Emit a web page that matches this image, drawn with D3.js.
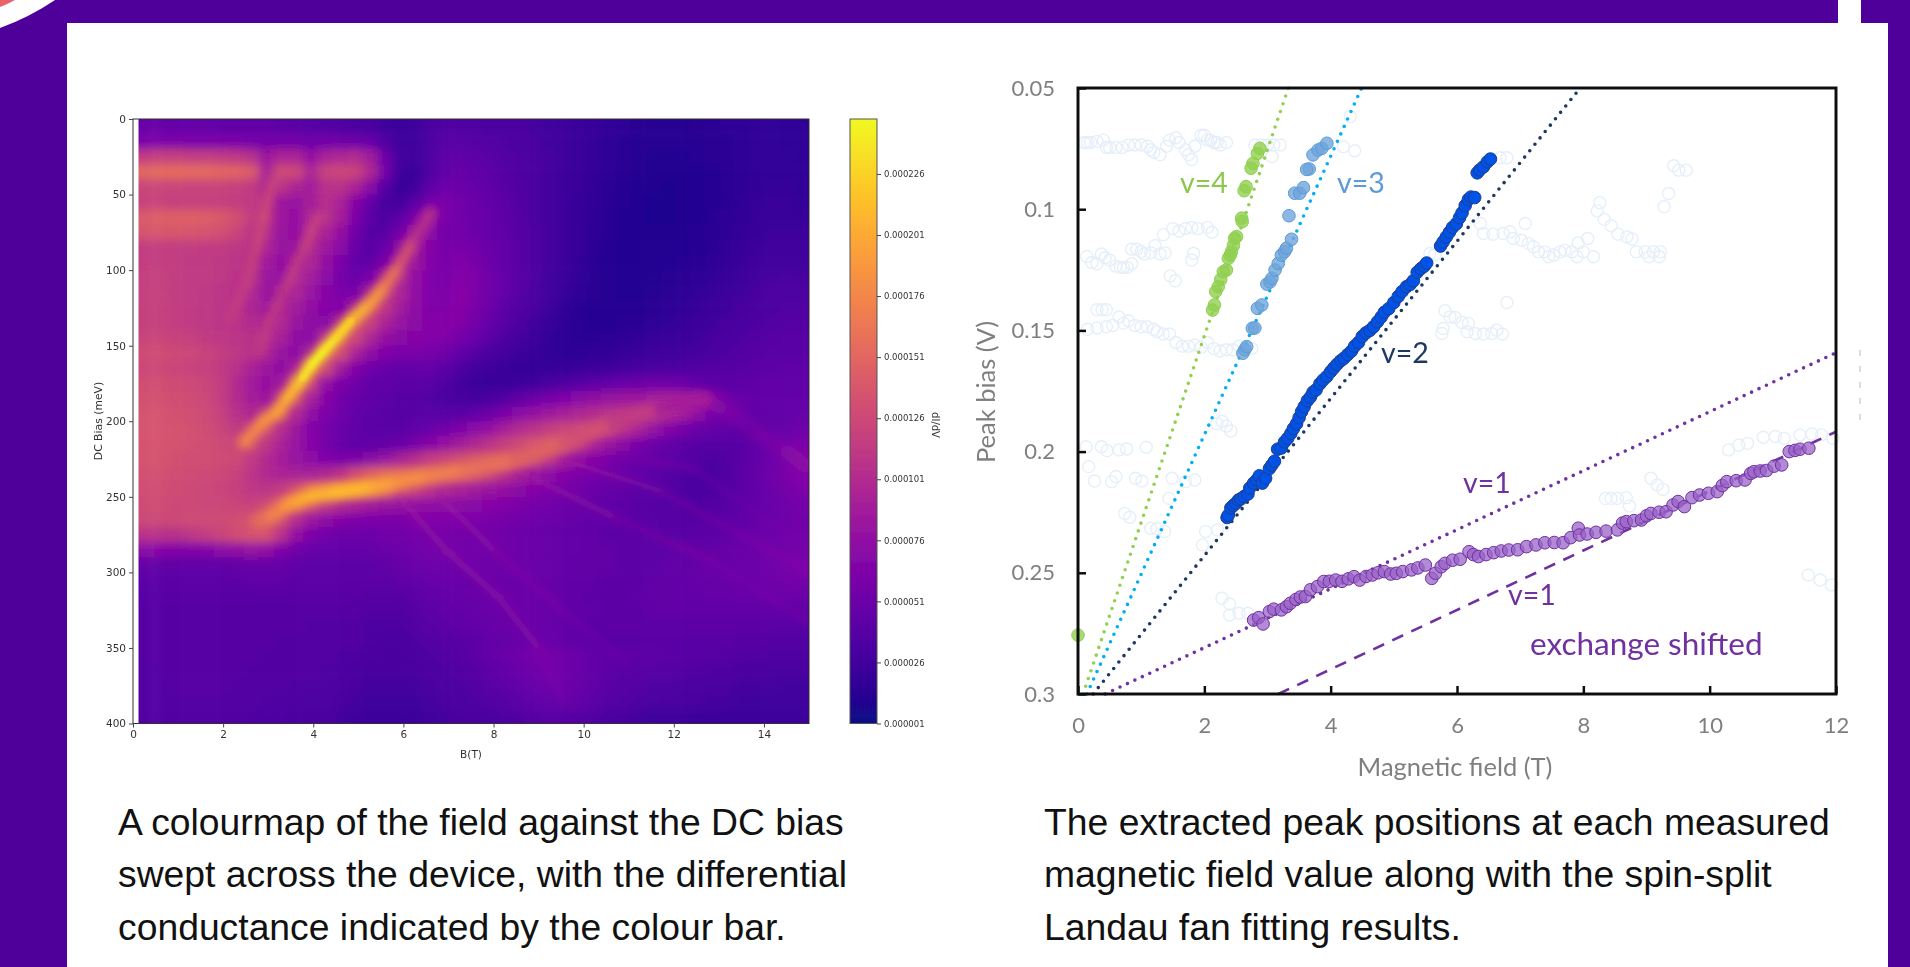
<!DOCTYPE html>
<html>
<head>
<meta charset="utf-8">
<script src="https://cdn.jsdelivr.net/npm/d3@7"></script>
<style>
  html, body { margin: 0; padding: 0; background: #4f009a; overflow: hidden; }
  svg { display: block; }
</style>
</head>
<body>
<div id="chart"></div>
<script>
// colourmap data, conductance in units of 1e-6, rows every 10 meV, columns every 0.33 T
const fieldEdges = [0.15,0.48,0.81,1.14,1.47,1.8,2.13,2.46,2.79,3.12,3.45,3.78,4.11,4.44,4.77,5.1,5.43,5.76,6.09,6.42,6.75,7.08,7.41,7.74,8.07,8.4,8.73,9.06,9.39,9.72,10.05,10.38,10.71,11.04,11.37,11.7,12.03,12.36,12.69,13.02,13.35,13.68,14.01,14.34,14.67,15];
const biasEdges = d3.range(0, 401, 10);
const conductance = [
[48,48,47,46,46,45,44,44,44,42,40,38,36,34,32,30,26,24,26,30,34,34,34,32,32,30,28,26,24,22,20,17,15,13,12,12,12,13,14,15,16,17,17,16,15],
[62,62,62,60,60,60,60,58,58,58,56,52,54,54,52,48,34,26,26,32,38,40,38,36,34,32,30,26,24,22,19,16,14,12,11,11,11,12,13,14,16,17,17,16,15],
[115,118,118,116,116,114,112,105,84,95,95,78,92,98,100,88,52,28,26,34,42,44,42,40,36,34,30,28,24,22,19,16,14,12,10,9,10,11,13,14,16,17,17,17,16],
[152,155,155,153,153,150,148,142,92,128,125,96,120,124,120,98,58,26,22,34,44,48,44,42,38,34,32,28,24,22,18,15,13,11,9,8,9,10,12,14,16,17,18,18,17],
[122,122,122,120,120,120,118,115,98,110,95,88,105,106,95,70,38,20,26,42,52,52,48,44,40,36,32,28,24,22,18,14,12,10,8,7,8,10,12,14,16,18,19,19,18],
[120,120,118,118,118,118,116,114,108,85,80,90,104,94,68,46,30,28,40,56,60,56,50,46,42,36,32,28,24,21,17,14,11,9,7,7,8,10,12,14,17,19,20,20,19],
[142,145,146,146,144,140,132,116,108,84,78,96,106,90,62,42,34,42,60,72,60,56,52,48,42,38,32,28,24,20,16,13,10,9,7,7,8,10,13,15,18,20,21,21,21],
[136,138,138,136,135,132,122,110,104,82,78,100,94,78,54,38,38,58,76,72,58,56,52,48,44,38,34,28,24,20,16,13,10,9,8,8,9,11,13,16,19,21,23,23,23],
[116,116,116,116,115,114,112,108,96,80,84,100,86,70,50,40,50,72,84,68,58,60,56,50,46,40,34,28,24,20,15,12,10,9,9,9,10,12,14,17,20,23,25,25,25],
[116,116,116,114,114,112,110,108,88,78,92,96,78,62,46,44,62,86,84,66,60,64,60,52,46,40,34,28,24,19,14,12,10,9,9,10,11,13,16,19,22,25,27,27,27],
[118,118,116,114,114,112,108,106,84,80,100,88,72,58,50,62,90,100,78,64,60,66,62,54,46,40,34,26,22,18,14,11,10,10,10,11,13,15,18,21,24,27,29,30,29],
[118,118,116,114,112,110,108,100,82,90,96,80,68,60,62,92,115,96,76,64,62,68,62,54,46,38,32,26,20,16,13,11,10,10,11,13,15,17,20,23,26,29,31,32,32],
[118,118,116,114,112,110,108,96,88,98,88,76,68,66,92,125,112,88,74,64,64,68,60,52,42,36,30,24,18,14,12,11,11,12,13,15,17,20,23,26,29,31,33,35,35],
[118,118,116,114,112,110,108,102,98,100,82,72,70,98,132,120,94,80,72,66,66,66,58,48,40,34,26,20,16,14,12,12,13,14,16,18,20,23,26,29,31,34,35,37,37],
[122,122,120,118,114,112,110,108,104,92,74,72,105,138,125,96,78,70,68,66,64,58,50,42,34,28,23,18,15,14,14,15,16,18,20,22,24,26,29,32,34,36,38,39,39],
[128,128,126,124,120,116,112,106,98,80,74,96,140,132,94,74,64,60,60,58,54,46,38,32,28,24,20,17,16,16,17,18,20,22,24,26,27,29,32,34,36,38,40,40,40],
[125,125,123,121,118,114,106,94,84,74,94,140,128,88,66,54,48,46,46,46,42,34,28,24,22,20,19,19,20,22,24,26,28,30,32,33,34,36,38,38,40,41,42,43,43],
[130,130,128,126,122,116,102,88,78,88,130,122,78,62,54,46,44,42,42,40,34,28,24,22,22,24,26,30,34,38,42,46,50,52,54,54,52,46,42,42,42,44,44,45,45],
[132,132,130,128,124,116,102,90,84,112,128,92,68,56,48,44,42,40,38,36,32,30,28,30,36,44,52,58,64,70,76,80,84,86,88,90,88,80,68,54,48,46,46,46,46],
[134,134,132,130,126,118,106,98,112,128,100,74,62,54,46,42,40,38,38,38,38,40,44,50,60,70,78,84,90,96,102,106,108,108,104,98,88,74,58,50,46,44,44,46,48],
[135,135,134,132,128,122,114,118,128,104,84,66,58,50,44,40,40,40,44,48,54,62,70,78,90,100,108,116,122,124,120,118,108,94,80,68,58,50,46,44,42,42,44,48,52],
[135,135,134,132,130,126,124,130,112,94,80,68,58,50,44,44,46,50,58,68,78,88,98,108,118,128,134,136,130,116,98,84,72,60,52,46,42,40,38,38,40,44,48,54,60],
[134,134,132,130,130,128,126,114,102,90,80,72,64,60,62,70,80,92,104,116,122,130,136,140,140,136,128,112,92,78,68,60,54,48,44,42,40,36,34,36,40,46,52,58,66],
[132,132,130,128,126,124,120,110,100,94,92,92,98,108,130,145,152,150,146,144,140,138,134,122,108,94,82,74,68,62,58,54,50,46,42,38,34,32,32,36,42,48,54,60,66],
[130,130,128,126,124,122,118,112,110,116,132,148,155,158,160,160,152,136,122,110,100,94,88,82,78,72,68,62,58,56,52,48,46,42,40,36,34,32,34,36,42,46,52,58,62],
[128,128,126,126,124,124,122,120,128,140,148,132,116,104,96,90,84,80,78,76,74,72,70,68,66,62,58,56,52,50,46,44,42,40,38,36,36,34,36,38,42,46,50,54,58],
[126,126,126,128,128,128,130,136,142,130,104,84,74,68,64,62,62,62,64,64,64,64,62,60,58,56,54,52,50,48,46,44,42,40,40,38,38,38,40,42,44,48,50,54,56],
[108,106,106,112,116,122,130,134,134,108,78,62,56,52,52,52,54,56,58,58,58,58,56,56,54,52,50,48,46,46,44,42,42,40,40,40,40,42,42,44,46,50,52,54,56],
[72,68,66,64,66,72,76,80,76,64,54,48,48,46,46,48,50,52,54,56,56,56,56,54,54,52,50,48,46,46,44,44,42,42,42,42,44,44,46,48,50,52,54,56,58],
[46,44,44,44,44,44,46,48,48,46,44,42,42,42,42,42,44,48,50,52,52,54,54,54,52,52,50,48,46,44,44,44,42,42,42,44,44,46,48,48,50,52,54,58,60],
[42,42,42,42,42,42,42,44,44,44,42,42,42,42,42,42,42,44,46,48,50,50,52,52,52,50,50,48,46,44,44,42,42,42,44,44,46,48,48,50,50,52,54,56,58],
[40,40,40,40,40,40,40,40,40,40,40,40,40,40,40,38,38,40,42,44,46,48,50,52,52,52,50,48,46,44,42,42,42,44,44,44,46,46,48,48,50,50,52,52,52],
[38,38,38,38,38,38,38,38,38,38,38,38,38,38,38,36,36,36,38,42,44,46,48,50,52,52,50,48,46,44,44,42,42,42,44,44,44,44,44,44,44,44,44,44,44],
[38,38,38,38,38,38,38,38,38,38,38,36,36,36,36,34,34,34,36,40,42,44,46,48,50,52,50,48,46,44,42,42,42,42,42,42,42,42,42,42,42,42,42,40,40],
[38,38,38,38,38,38,38,38,38,36,36,36,36,36,36,34,32,32,34,36,38,40,42,46,48,50,52,50,46,44,42,40,40,40,40,40,40,40,40,40,38,38,36,36,36],
[38,38,38,38,38,38,38,38,36,36,36,36,36,34,34,32,30,30,32,34,36,38,42,46,50,54,58,58,54,50,46,44,42,42,42,40,40,40,38,38,36,36,34,34,34],
[36,38,38,38,38,38,38,36,36,36,36,36,34,34,32,30,30,30,30,32,34,36,38,42,46,50,54,56,54,50,46,42,40,40,38,38,36,36,34,34,32,32,30,30,30],
[36,36,38,38,38,38,36,36,36,36,34,34,34,32,30,28,28,28,28,30,32,34,36,40,42,46,50,52,52,48,44,40,38,36,34,34,32,32,30,30,28,28,28,26,26],
[36,36,36,36,36,36,36,36,34,34,34,32,32,30,28,26,26,26,26,28,30,32,34,36,38,42,44,46,48,46,42,38,36,34,32,30,30,30,28,28,26,26,26,26,26],
[36,36,36,36,36,36,36,34,34,34,32,30,30,28,26,24,24,24,24,26,28,30,30,32,34,36,38,40,40,38,36,32,30,28,26,26,26,24,24,24,24,24,24,24,24]
];

// ridges of the colourmap, [field T, bias meV, conductance 1e-6]
const nu4Ridge = [[3.1,40,125],[2.9,65,145],[2.75,85,128],[2.5,110,122],[2.15,132,118]];
const nu3Ridge = [[4.1,65,135],[3.8,85,130],[3.4,110,122],[3,135,122],[2.8,155,118]];
const mainRidge = [[2.47,214,172],[2.9,200,182],[3.2,194,192],[3.44,184,205],[3.7,174,220],[3.98,162,232],[4.25,153,232],[4.5,145,226],[4.85,133,218],[5.27,122,205],[5.6,110,180],[5.92,96,150],[6.24,79,118],[6.6,62,92]];
const mainCore = [[3.75,172,236],[3.98,162,248],[4.25,153,248],[4.5,145,238],[4.85,133,226]];
const lowRidge = [[2.8,266,150],[3.1,262,165],[3.44,255,185],[3.7,252,198],[4,249,205],[4.5,247,212],[4.95,245,215],[5.4,243,205],[5.9,240,188],[6.6,236,176],[7.4,232,166],[8.5,226,154],[9.6,214,140],[10.65,201,125],[11.7,191,105],[12.7,186,78]];
const faintRidges = [
  [[5.9,250,92],[7,287,88],[8.1,316,92],[9,350,78],[9.6,385,55]],
  [[6.8,250,88],[8,285,82],[9.5,325,72],[11,360,50]],
  [[8.5,232,95],[10.65,263,82],[12.8,292,72],[15,333,62]],
  [[9.6,226,95],[11.7,246,80],[13.5,275,70],[15,300,74]],
  [[10.8,222,82],[12.5,232,58],[14,265,60],[15,280,62]]
];
const tailRidge = [[12.7,186,80],[13.3,195,68],[13.9,208,62],[14.5,220,72],[15,231,82]];
const heatXTicks = [0, 2, 4, 6, 8, 10, 12, 14];
const heatYTicks = [0, 50, 100, 150, 200, 250, 300, 350, 400];
const barTicks = [1, 26, 51, 76, 101, 126, 151, 176, 201, 226];

// peak positions [field T, peak bias V]
const nu4Peaks = [[0,0.2757],[2.13,0.1416],[2.16,0.1395],[2.18,0.134],[2.22,0.132],[2.26,0.129],[2.3,0.1258],[2.35,0.1251],[2.38,0.1203],[2.41,0.119],[2.43,0.1175],[2.46,0.115],[2.48,0.112],[2.51,0.1113],[2.59,0.1037],[2.6,0.1051],[2.63,0.0924],[2.66,0.0907],[2.74,0.0831],[2.77,0.0811],[2.84,0.077],[2.88,0.0749]];
const nu3Peaks = [[2.61,0.1594],[2.64,0.158],[2.67,0.1567],[2.76,0.1491],[2.8,0.149],[2.84,0.1409],[2.91,0.1395],[2.99,0.1309],[3.04,0.13],[3.07,0.1285],[3.12,0.1251],[3.17,0.1224],[3.22,0.1189],[3.27,0.1175],[3.3,0.1161],[3.38,0.1124],[3.34,0.1027],[3.43,0.0934],[3.51,0.0934],[3.57,0.0911],[3.66,0.0834],[3.62,0.0836],[3.72,0.0776],[3.8,0.0756],[3.86,0.0749],[3.94,0.0728]];
const nu2Peaks = [[2.36,0.2272],[2.38,0.2262],[2.42,0.2232],[2.46,0.2222],[2.5,0.2213],[2.54,0.22],[2.58,0.2195],[2.63,0.2185],[2.69,0.2175],[2.72,0.215],[2.78,0.213],[2.83,0.2117],[2.87,0.21],[2.92,0.213],[2.97,0.211],[3.03,0.207],[3.07,0.2055],[3.11,0.204],[3.16,0.199],[3.22,0.1985],[3.27,0.196],[3.32,0.1945],[3.37,0.1925],[3.41,0.1905],[3.46,0.1885],[3.5,0.186],[3.54,0.1835],[3.58,0.1815],[3.63,0.179],[3.68,0.1775],[3.72,0.1755],[3.77,0.1745],[3.83,0.172],[3.88,0.1705],[3.94,0.169],[4,0.167],[4.05,0.1655],[4.1,0.164],[4.16,0.1625],[4.21,0.1615],[4.27,0.16],[4.33,0.1585],[4.38,0.1565],[4.44,0.155],[4.5,0.1525],[4.56,0.151],[4.62,0.15],[4.68,0.1485],[4.74,0.1465],[4.8,0.1445],[4.85,0.1425],[4.92,0.141],[5,0.1385],[5.07,0.136],[5.13,0.134],[5.2,0.132],[5.26,0.131],[5.31,0.1295],[5.37,0.126],[5.43,0.1245],[5.48,0.1235],[5.52,0.1222],[5.74,0.1152],[5.78,0.1135],[5.83,0.1115],[5.88,0.1095],[5.93,0.1075],[5.99,0.106],[6.04,0.1035],[6.08,0.1015],[6.13,0.0985],[6.18,0.096],[6.22,0.095],[6.28,0.0952],[6.32,0.085],[6.36,0.0838],[6.42,0.0825],[6.48,0.0805],[6.53,0.0793]];
const nu1Peaks = [[2.78,0.2695],[2.86,0.2685],[2.93,0.2711],[3.03,0.266],[3.1,0.265],[3.22,0.2653],[3.3,0.264],[3.36,0.2626],[3.45,0.261],[3.52,0.26],[3.6,0.2598],[3.68,0.257],[3.79,0.2557],[3.89,0.2536],[3.98,0.2535],[4.08,0.253],[4.18,0.2535],[4.28,0.2525],[4.37,0.2516],[4.46,0.253],[4.56,0.2515],[4.66,0.2509],[4.75,0.25],[4.85,0.2495],[4.95,0.2505],[5.04,0.2502],[5.14,0.2495],[5.28,0.2488],[5.38,0.248],[5.5,0.2468],[5.6,0.2523],[5.66,0.2502],[5.75,0.2475],[5.81,0.2461],[5.93,0.2448],[6.05,0.2444],[6.19,0.2413],[6.26,0.2425],[6.34,0.2433],[6.46,0.2425],[6.58,0.2417],[6.7,0.241],[6.82,0.2406],[6.96,0.2405],[7.1,0.2392],[7.25,0.2385],[7.39,0.2376],[7.54,0.2375],[7.68,0.2376],[7.8,0.2355],[7.92,0.2316],[7.94,0.2344],[8.06,0.234],[8.2,0.2333],[8.36,0.2328],[8.54,0.2323],[8.62,0.2295],[8.68,0.2289],[8.8,0.2285],[8.92,0.2282],[9,0.2265],[9.07,0.2255],[9.2,0.225],[9.31,0.2248],[9.42,0.222],[9.5,0.2206],[9.6,0.2227],[9.72,0.219],[9.84,0.2179],[9.98,0.2172],[10.12,0.2165],[10.2,0.214],[10.27,0.2124],[10.42,0.212],[10.56,0.2117],[10.65,0.209],[10.7,0.2083],[10.8,0.208],[10.9,0.2078],[11.02,0.206],[11.14,0.2055],[11.26,0.2],[11.35,0.1995],[11.43,0.199],[11.57,0.1986]];
const fadedPeaks = [
  [0.1,0.0725],[0.15,0.0725],[0.2,0.0725],[0.3,0.072],[0.4,0.0715],[0.45,0.0745],[0.5,0.0745],[0.6,0.0745],[0.7,0.0745],[0.8,0.0735],[0.9,0.0735],[1,0.0735],[1.1,0.074],[1.15,0.0755],[1.2,0.0765],[1.3,0.0775],[1.4,0.074],[1.45,0.0715],[1.55,0.0705],[1.6,0.0725],[1.7,0.0755],[1.75,0.0775],[1.8,0.0795],[1.85,0.074],[1.95,0.0695],[2,0.0695],[2.05,0.0715],[2.1,0.0715],[2.15,0.0725],[2.2,0.0725],[2.25,0.0735],[2.35,0.0725],[2.8,0.0735],[2.9,0.0735],[3,0.0735],[3.1,0.0735],[3.2,0.0735],[3.07,0.0783],[4.31,0.0618],[4.2,0.0742],[4.38,0.0759],
  [0.14,0.1195],[0.22,0.122],[0.3,0.1225],[0.37,0.1185],[0.43,0.12],[0.5,0.121],[0.6,0.1235],[0.67,0.124],[0.72,0.124],[0.78,0.124],[0.85,0.1225],[0.85,0.1165],[0.93,0.1165],[1,0.1175],[1.05,0.1185],[1.15,0.118],[1.22,0.115],[1.3,0.1185],[1.38,0.118],[1.35,0.1105],[1.5,0.108],[1.6,0.109],[1.7,0.108],[1.8,0.1075],[1.9,0.108],[2.05,0.1075],[2.12,0.1095],[1.83,0.1182],[1.8,0.121],[1.46,0.1275],[1.54,0.1295],[3.3,0.1165],
  [0.3,0.1415],[0.38,0.1415],[0.45,0.1415],[0.15,0.1495],[0.3,0.149],[0.45,0.1485],[0.55,0.148],[0.65,0.1445],[0.72,0.147],[0.8,0.146],[0.9,0.148],[1,0.1485],[1.1,0.1485],[1.2,0.1495],[1.25,0.1505],[1.35,0.1515],[1.45,0.1515],[1.55,0.155],[1.65,0.1565],[1.75,0.1565],[1.85,0.156],[1.95,0.157],[2.05,0.155],[2.15,0.1575],[2.25,0.1585],[2.35,0.158],[2.45,0.158],[2.55,0.1565],[2.75,0.1575],
  [2.2,0.1885],[2.28,0.1875],[2.35,0.1895],[2.42,0.1915],
  [0.13,0.198],[0.37,0.198],[0.46,0.1996],[0.65,0.1993],[0.77,0.1989],[1.08,0.1982],[0.17,0.2062],[0.26,0.2121],[0.53,0.2124],[0.6,0.2103],[0.91,0.211],[1.01,0.2121],[1.49,0.211],[1.7,0.2124],[1.85,0.2117],[1.44,0.2193],[0.74,0.2255],[0.82,0.2271],[1.15,0.2316],[1.25,0.2318],[1.37,0.233],[1.97,0.2385],[2.02,0.233],[2.21,0.2323],
  [2.28,0.2605],[2.4,0.2629],[2.4,0.2674],[2.55,0.2667],[2.69,0.2667],
  [8.35,0.2193],[8.44,0.2193],[8.54,0.2193],[8.68,0.219],[8.73,0.2224],[9.07,0.211],[9.17,0.2138],[9.26,0.2156],
  [10.3,0.1993],[10.46,0.1973],[10.6,0.1966],[10.85,0.1941],[11.04,0.1938],[11.18,0.1945],[11.43,0.1931],[11.62,0.1927],[11.77,0.1931],[11.95,0.1945],[11.56,0.2509],[11.75,0.253],[11.93,0.255],
  [6.37,0.1059],[6.42,0.11],[6.57,0.1103],[6.73,0.11],[6.84,0.1093],[6.89,0.1121],[7.02,0.1128],[7.13,0.1141],[7.21,0.1155],[7.29,0.1176],[7.39,0.1176],[7.45,0.1196],[7.53,0.1189],[7.63,0.1176],[7.71,0.1169],[7.82,0.1176],[7.9,0.1196],[8,0.1176],[7.92,0.1139],[8.07,0.1121],[8.16,0.1196],[7.08,0.1059],
  [8.26,0.0973],[8.22,0.1007],[8.33,0.1042],[8.44,0.1068],[8.55,0.1103],[8.69,0.1114],[8.77,0.1123],[8.84,0.1176],[8.98,0.1176],[9.11,0.1176],[9.22,0.1176],[9.04,0.1196],[9.2,0.1196],[9.35,0.0935],[9.28,0.099],[9.43,0.0821],[9.51,0.0839],[9.63,0.0839],
  [6.79,0.1385],[5.81,0.1419],[5.89,0.1444],[5.97,0.1447],[6.08,0.1467],[6.18,0.1471],[6.16,0.1506],[6.29,0.1513],[6.42,0.1515],[6.55,0.1513],[6.63,0.1499],[6.72,0.1515],[5.76,0.1513],[5.78,0.1492],[5.57,0.1183],[5.65,0.1187],[6.79,0.0788],[6.68,0.0788]
];

// fitted Landau fan lines, end points [field T, peak bias V]
const nu4Fit = [[0.08,0.3],[3.33,0.05]];
const nu3Fit = [[0.14,0.3],[4.49,0.05]];
const nu2Fit = [[0.24,0.3],[7.95,0.05]];
const nu1Fit = [[0.43,0.3],[12,0.1592]];
const nu1ShiftFit = [[3.17,0.3],[12,0.1918]];
const fanXTicks = [0, 2, 4, 6, 8, 10, 12];
const fanYTicks = [0.05, 0.1, 0.15, 0.2, 0.25, 0.3];

const captionLeft = ['A colourmap of the field against the DC bias', 'swept across the device, with the differential', 'conductance indicated by the colour bar.'];
const captionRight = ['The extracted peak positions at each measured', 'magnetic field value along with the spin-split', 'Landau fan fitting results.'];

const calibri = 'Lato, "Open Sans", sans-serif';

const svg = d3.select('#chart').append('svg')
  .attr('width', 1910)
  .attr('height', 967)
  .attr('viewBox', '0 0 1910 967');

const defs = svg.append('defs');
function addBlur(id, amount) {
  defs.append('filter').attr('id', id)
    .attr('x', '-5%').attr('y', '-5%').attr('width', '110%').attr('height', '110%')
    .append('feGaussianBlur').attr('stdDeviation', amount);
}
addBlur('cellBlur', 5);
addBlur('wideBlur', 6);
addBlur('ridgeBlur', 4.5);
addBlur('faintBlur', 3.5);
addBlur('coreBlur', 2.5);
addBlur('soft', 0.55);
addBlur('softer', 0.75);
defs.append('clipPath').attr('id', 'heatClip')
  .append('rect').attr('x', 138.5).attr('y', 119).attr('width', 670.5).attr('height', 604.5);

// page background: white panel on the purple page
svg.append('rect').attr('x', 67).attr('y', 23).attr('width', 1821).attr('height', 944).attr('fill', '#fff');
svg.append('rect').attr('x', 1838).attr('y', 0).attr('width', 23).attr('height', 23).attr('fill', '#fff');
svg.append('path').attr('d', 'M0,0 L55,0 Q30,17 0,28 Z').attr('fill', '#fff');
svg.append('path').attr('d', 'M0,0 L15,0 Q8,4 0,7 Z').attr('fill', '#e8656a');

// ****************** colourmap ***************************
const heatX = d3.scaleLinear().domain([0, 15]).range([133, 809]);
const heatY = d3.scaleLinear().domain([0, 400]).range([119, 723.5]);
const plasma = d3.scaleSequential(d3.interpolatePlasma).domain([1, 248.5]);

const left = svg.append('g').attr('class', 'colourmap').attr('filter', 'url(#softer)');
const cellsClip = left.append('g').attr('clip-path', 'url(#heatClip)');
const cells = cellsClip.append('g').attr('filter', 'url(#cellBlur)');

conductance.forEach((row, r) => {
  cells.selectAll(null)
    .data(row)
    .join('rect')
    // outer cells run past the clip so the blur does not fade at the edge
    .attr('x', (d, c) => heatX(fieldEdges[c]) - (c === 0 ? 40 : 0))
    .attr('y', heatY(biasEdges[r]) - (r === 0 ? 40 : 0))
    .attr('width', (d, c) => heatX(fieldEdges[c + 1]) - heatX(fieldEdges[c]) + (c === 0 || c === row.length - 1 ? 40 : 0.5))
    .attr('height', heatY(biasEdges[r + 1]) - heatY(biasEdges[r]) + (r === 0 || r === conductance.length - 1 ? 40 : 0.5))
    .attr('fill', d => plasma(d));
});

function drawRidge(group, points, width, opacity) {
  group.append('g').selectAll('line')
    .data(points.slice(1).map((d, i) => [points[i], d]))
    .join('line')
    .attr('x1', d => heatX(d[0][0]))
    .attr('y1', d => heatY(d[0][1]))
    .attr('x2', d => heatX(d[1][0]))
    .attr('y2', d => heatY(d[1][1]))
    .attr('stroke', d => plasma((d[0][2] + d[1][2]) / 2))
    .attr('stroke-width', width)
    .attr('stroke-opacity', opacity)
    .attr('stroke-linecap', 'round');
}

const faintGroup = cellsClip.append('g').attr('filter', 'url(#faintBlur)');
faintRidges.forEach(points => drawRidge(faintGroup, points, 6, 0.38));
drawRidge(cellsClip.append('g').attr('filter', 'url(#wideBlur)'), tailRidge, 14, 0.6);
const ridgeGroup = cellsClip.append('g').attr('filter', 'url(#ridgeBlur)');
drawRidge(ridgeGroup, nu4Ridge, 8, 0.7);
drawRidge(ridgeGroup, nu3Ridge, 8, 0.7);
drawRidge(ridgeGroup, lowRidge, 15, 0.95);
drawRidge(ridgeGroup, mainRidge, 13, 0.95);
drawRidge(cellsClip.append('g').attr('filter', 'url(#coreBlur)'), mainCore, 5, 0.9);

left.append('rect')
  .attr('x', 133).attr('y', 119).attr('width', 676).attr('height', 604.5)
  .attr('fill', 'none').attr('stroke', '#333').attr('stroke-width', 1);

function styleSmallAxis(g) {
  g.select('.domain').remove();
  g.selectAll('line').attr('stroke', '#444');
  g.selectAll('text').attr('fill', '#333').attr('font-size', 10.5).attr('font-family', 'DejaVu Sans');
}

left.append('g')
  .attr('transform', 'translate(0,723.5)')
  .call(d3.axisBottom(heatX).tickValues(heatXTicks).tickSize(4).tickPadding(3))
  .call(styleSmallAxis);

left.append('g')
  .attr('transform', 'translate(133,0)')
  .call(d3.axisLeft(heatY).tickValues(heatYTicks).tickSize(4).tickPadding(3))
  .call(styleSmallAxis);

left.append('text')
  .attr('x', 471).attr('y', 758)
  .attr('text-anchor', 'middle')
  .attr('font-size', 10.5).attr('font-family', 'DejaVu Sans').attr('fill', '#333')
  .text('B(T)');

left.append('text')
  .attr('transform', 'translate(102,421) rotate(-90)')
  .attr('text-anchor', 'middle')
  .attr('font-size', 10.8).attr('font-family', 'DejaVu Sans').attr('fill', '#333')
  .text('DC Bias (meV)');

// colour bar
const barY = d3.scaleLinear().domain([1, 248.5]).range([723.5, 119]);
const barGradient = defs.append('linearGradient').attr('id', 'barGradient')
  .attr('x1', 0).attr('y1', 1).attr('x2', 0).attr('y2', 0);
d3.range(0, 1.01, 0.05).forEach(t => {
  barGradient.append('stop').attr('offset', t).attr('stop-color', d3.interpolatePlasma(t));
});

left.append('rect')
  .attr('x', 850).attr('y', 119).attr('width', 27).attr('height', 604.5)
  .attr('fill', 'url(#barGradient)')
  .attr('stroke', '#555').attr('stroke-width', 1);

left.append('g')
  .attr('transform', 'translate(877,0)')
  .call(d3.axisRight(barY).tickValues(barTicks).tickSize(4).tickPadding(3)
    .tickFormat(d => (d / 1e6).toFixed(6)))
  .call(styleSmallAxis)
  .call(g => g.selectAll('text').attr('font-size', 8.5));

left.append('text')
  .attr('transform', 'translate(932,425) rotate(90)')
  .attr('text-anchor', 'middle')
  .attr('font-size', 10).attr('font-family', 'DejaVu Sans').attr('fill', '#333')
  .text('dI/dV');

// ****************** Landau fan ***************************
const fanX = d3.scaleLinear().domain([0, 12]).range([1078, 1836]);
const fanY = d3.scaleLinear().domain([0.05, 0.3]).range([88, 694]);

const right = svg.append('g').attr('class', 'fan').attr('filter', 'url(#soft)');

right.append('g').selectAll('circle')
  .data(fadedPeaks)
  .join('circle')
  .attr('cx', d => fanX(d[0]))
  .attr('cy', d => fanY(d[1]))
  .attr('r', 6)
  .attr('fill', 'none')
  .attr('stroke', '#e6eff9')
  .attr('stroke-width', 1.4);

const fanLine = d3.line().x(d => fanX(d[0])).y(d => fanY(d[1]));
function drawFit(points, color, dash, width) {
  right.append('path')
    .attr('d', fanLine(points))
    .attr('fill', 'none')
    .attr('stroke', color)
    .attr('stroke-width', width)
    .attr('stroke-linecap', dash[0] === 0 ? 'round' : 'butt')
    .attr('stroke-dasharray', dash.join(' '));
}
drawFit(nu4Fit, '#92d050', [0, 8.2], 3.6);
drawFit(nu3Fit, '#00b0f0', [0, 8.2], 3.6);
drawFit(nu2Fit, '#1f3864', [0, 8.2], 3.6);
drawFit(nu1Fit, '#7030a0', [0, 8.2], 3.6);
drawFit(nu1ShiftFit, '#7030a0', [12, 9], 2.6);

function drawPeaks(points, fill, stroke, opacity) {
  right.append('g').selectAll('circle')
    .data(points)
    .join('circle')
    .attr('cx', d => fanX(d[0]))
    .attr('cy', d => fanY(d[1]))
    .attr('r', 6.3)
    .attr('fill', fill)
    .attr('fill-opacity', opacity)
    .attr('stroke', stroke)
    .attr('stroke-width', 1);
}
drawPeaks(nu4Peaks, '#92d050', '#8ccf50', 0.8);
drawPeaks(nu3Peaks, '#6fa5dc', '#5b9bd5', 0.8);
drawPeaks(nu2Peaks, '#0052e6', '#1f3f8f', 1);
drawPeaks(nu1Peaks, '#9a63c8', '#7030a0', 0.75);

right.append('rect')
  .attr('x', 1078).attr('y', 88).attr('width', 758).attr('height', 606)
  .attr('fill', 'none').attr('stroke', '#111').attr('stroke-width', 3);

function styleFanAxis(g) {
  g.select('.domain').remove();
  g.selectAll('line').attr('stroke', '#111').attr('stroke-width', 2.5);
  g.selectAll('text').attr('fill', '#7f7f7f').attr('font-size', 22).attr('font-family', calibri);
}

right.append('g')
  .attr('transform', 'translate(0,694)')
  .call(d3.axisBottom(fanX).tickValues(fanXTicks).tickSizeInner(-8).tickSizeOuter(0).tickPadding(23))
  .call(styleFanAxis);

right.append('g')
  .attr('transform', 'translate(1078,0)')
  .call(d3.axisLeft(fanY).tickValues(fanYTicks).tickSizeInner(-8).tickSizeOuter(0).tickPadding(23)
    .tickFormat(d3.format('~g')))
  .call(styleFanAxis);

right.append('text')
  .attr('x', 1455).attr('y', 776)
  .attr('text-anchor', 'middle')
  .attr('font-size', 25.5).attr('font-family', calibri).attr('fill', '#7f7f7f')
  .text('Magnetic field (T)');

right.append('text')
  .attr('transform', 'translate(995,392) rotate(-90)')
  .attr('text-anchor', 'middle')
  .attr('font-size', 25.5).attr('font-family', calibri).attr('fill', '#7f7f7f')
  .text('Peak bias (V)');

function fanLabel(x, y, color, text, size) {
  right.append('text')
    .attr('x', x).attr('y', y)
    .attr('font-size', size).attr('font-family', calibri).attr('fill', color)
    .text(text);
}
fanLabel(1180, 193, '#8cc84b', 'v=4', 28.5);
fanLabel(1337, 193, '#5b9bd5', 'v=3', 28.5);
fanLabel(1381, 363, '#1f3864', 'v=2', 28.5);
fanLabel(1463, 493, '#7030a0', 'v=1', 28.5);
fanLabel(1508, 605, '#7030a0', 'v=1', 28.5);
fanLabel(1530, 655, '#7030a0', 'exchange shifted', 31.5);

// stray marks beside the plot frame
right.append('line')
  .attr('x1', 1860).attr('y1', 350).attr('x2', 1860).attr('y2', 430)
  .attr('stroke', '#bbb').attr('stroke-width', 1).attr('stroke-dasharray', '6 10');

// ****************** captions ***************************
function drawCaption(lines, x) {
  svg.append('g').selectAll('text')
    .data(lines)
    .join('text')
    .attr('x', x)
    .attr('y', (d, i) => 835 + i * 52.3)
    .attr('font-size', 37.3)
    .attr('font-family', '"Liberation Sans", Arial, sans-serif')
    .attr('fill', '#111')
    .text(d => d);
}
drawCaption(captionLeft, 118);
drawCaption(captionRight, 1044);
</script>
</body>
</html>
